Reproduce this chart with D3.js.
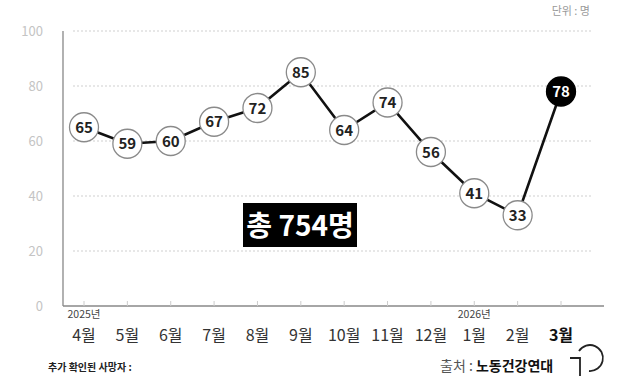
<!DOCTYPE html>
<html>
<head>
<meta charset="utf-8">
<script src="https://cdn.jsdelivr.net/npm/d3@7"></script>
<style>
  body { margin: 0; background: #fff; }
  svg { display: block; font-family: "Noto Sans CJK KR", "Noto Sans", sans-serif; }
</style>
</head>
<body>
<div id="chart"></div>
<script>
var months = ["4월", "5월", "6월", "7월", "8월", "9월", "10월", "11월", "12월", "1월", "2월", "3월"];
var deaths = [65, 59, 60, 67, 72, 85, 64, 74, 56, 41, 33, 78];
var yearLabels = [{ month: "4월", text: "2025년" }, { month: "1월", text: "2026년" }];
var yTicks = [0, 20, 40, 60, 80, 100];
var totalLabel = "총 754명";

var W = 627, H = 376;
var svg = d3.select("#chart").append("svg")
    .attr("width", W)
    .attr("height", H);

var x = d3.scalePoint()
    .domain(months)
    .range([84, 561]);

var y = d3.scaleLinear()
    .domain([0, 100])
    .range([306, 31]);

// gridlines
svg.append("g")
    .selectAll("line")
    .data(yTicks.filter(function (d) { return d > 0; }))
    .join("line")
    .attr("x1", 73)
    .attr("x2", 592)
    .attr("y1", function (d) { return y(d); })
    .attr("y2", function (d) { return y(d); })
    .attr("stroke", "#cfcfcf")
    .attr("stroke-width", 1)
    .attr("stroke-dasharray", "2,2");

// y labels
svg.append("g")
    .selectAll("text")
    .data(yTicks)
    .join("text")
    .attr("x", 43)
    .attr("y", function (d) { return y(d) + 5; })
    .attr("text-anchor", "end")
    .attr("fill", "#c4c4c4")
    .style("font-size", "13px")
    .text(function (d) { return d; });

// axes lines
svg.append("line")
    .attr("x1", 63).attr("x2", 63)
    .attr("y1", y(100)).attr("y2", y(0))
    .attr("stroke", "#888").attr("stroke-width", 1.3);
svg.append("line")
    .attr("x1", 63).attr("x2", 604)
    .attr("y1", y(0)).attr("y2", y(0))
    .attr("stroke", "#888").attr("stroke-width", 1.3);

// small ticks
svg.append("g")
    .selectAll("line")
    .data(months)
    .join("line")
    .attr("x1", function (d) { return x(d); })
    .attr("x2", function (d) { return x(d); })
    .attr("y1", y(0) - 5)
    .attr("y2", y(0))
    .attr("stroke", "#ccc");

// month labels
svg.append("g")
    .selectAll("text")
    .data(months)
    .join("text")
    .attr("x", function (d) { return x(d); })
    .attr("y", 341)
    .attr("text-anchor", "middle")
    .attr("fill", function (d, i) { return i === months.length - 1 ? "#111" : "#333"; })
    .style("font-size", "16px")
    .style("font-weight", function (d, i) { return i === months.length - 1 ? "bold" : "normal"; })
    .text(function (d) { return d; });

svg.append("g")
    .selectAll("text")
    .data(yearLabels)
    .join("text")
    .attr("x", function (d) { return x(d.month); })
    .attr("y", 318)
    .attr("text-anchor", "middle")
    .attr("fill", "#444")
    .style("font-size", "10.5px")
    .text(function (d) { return d.text; });

// line
svg.append("path")
    .datum(deaths)
    .attr("fill", "none")
    .attr("stroke", "#111")
    .attr("stroke-width", 2.6)
    .attr("d", d3.line()
        .x(function (d, i) { return x(months[i]); })
        .y(function (d) { return y(d); }));

// point bubbles
var pts = svg.append("g")
    .selectAll("g")
    .data(deaths)
    .join("g")
    .attr("transform", function (d, i) { return "translate(" + x(months[i]) + "," + y(d) + ")"; });

pts.append("circle")
    .attr("r", 14.5)
    .attr("fill", function (d, i) { return i === deaths.length - 1 ? "#000" : "#fff"; })
    .attr("stroke", function (d, i) { return i === deaths.length - 1 ? "#000" : "#8a8a8a"; })
    .attr("stroke-width", 1.3);

pts.append("text")
    .attr("text-anchor", "middle")
    .attr("y", 5.5)
    .attr("fill", function (d, i) { return i === deaths.length - 1 ? "#fff" : "#222"; })
    .style("font-size", "15px")
    .style("font-weight", "bold")
    .text(function (d) { return d; });

// total box
svg.append("rect")
    .attr("x", 243).attr("y", 203)
    .attr("width", 114).attr("height", 44)
    .attr("fill", "#000");
svg.append("text")
    .attr("x", 300).attr("y", 236)
    .attr("text-anchor", "middle")
    .attr("fill", "#fff")
    .style("font-size", "28px")
    .style("font-weight", "bold")
    .text(totalLabel);

// unit
svg.append("text")
    .attr("x", 590).attr("y", 15)
    .attr("text-anchor", "end")
    .attr("fill", "#999")
    .style("font-size", "11px")
    .text("단위 : 명");

// footer
svg.append("text")
    .attr("x", 48).attr("y", 371)
    .attr("fill", "#222")
    .style("font-size", "10px")
    .style("font-weight", "bold")
    .text("추가 확인된 사망자 :");

svg.append("text")
    .attr("x", 440).attr("y", 371)
    .attr("fill", "#555")
    .style("font-size", "14px")
    .text("출처 : ")
    .append("tspan")
    .attr("fill", "#111")
    .style("font-weight", "bold")
    .text("노동건강연대");

// logo
svg.append("path")
    .attr("d", "M579,351 A13,13 0 1,1 589,371")
    .attr("fill", "none")
    .attr("stroke", "#222")
    .attr("stroke-width", 1.8);
svg.append("path")
    .attr("d", "M570,358 L580,358 L580,378")
    .attr("fill", "none")
    .attr("stroke", "#222")
    .attr("stroke-width", 1.8);
</script>
</body>
</html>
